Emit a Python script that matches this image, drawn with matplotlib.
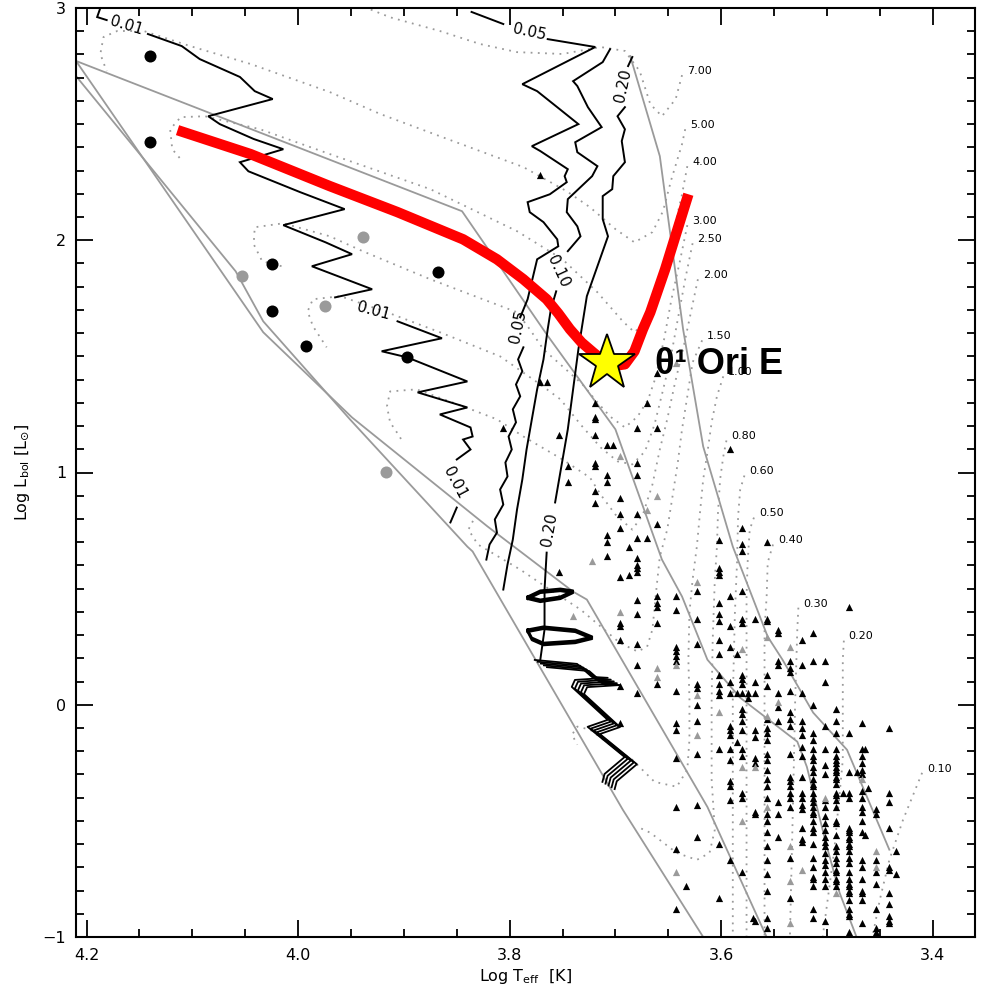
import numpy as np
import matplotlib
matplotlib.use("Agg")
import matplotlib.pyplot as plt
import matplotlib.transforms as mtransforms
from matplotlib.ticker import MultipleLocator

plt.rcParams['font.family'] = ['DejaVu Sans']
plt.rcParams['mathtext.fontset'] = 'dejavusans'

GRAY = '#9a9a9a'

# ---------------- axes ----------------
x_limits = (4.21, 3.36)
y_limits = (-1.0, 3.0)
x_major = [4.2, 4.0, 3.8, 3.6, 3.4]
x_major_labels = ['4.2', '4.0', '3.8', '3.6', '3.4']
y_major = [-1, 0, 1, 2, 3]
y_major_labels = ['\u22121', '0', '1', '2', '3']

# ---------------- boundary polylines (log Teff, log L) ----------------
boundary_a_t = [4.210, 3.845, 3.765, 3.700, 3.656, 3.637, 3.613, 3.582, 3.528, 3.519, 3.500, 3.488, 3.472]
boundary_a_l = [2.772, 2.125, 1.595, 1.186, 0.625, 0.466, 0.194, 0.030, -0.159, -0.267, -0.612, -0.810, -1.0]
boundary_b_t = [4.210, 4.033, 3.949, 3.821, 3.740, 3.727, 3.613, 3.557]
boundary_b_l = [2.772, 1.604, 1.237, 0.768, 0.487, 0.453, -0.440, -1.0]
boundary_c_t = [3.686, 3.658, 3.636, 3.617, 3.589, 3.556, 3.542, 3.513, 3.481, 3.441]
boundary_c_l = [2.793, 2.362, 1.617, 1.112, 0.681, 0.293, 0.194, -0.034, -0.194, -0.624]
boundary_d_t = [4.210, 4.059, 4.033, 3.951, 3.840, 3.835, 3.693, 3.617]
boundary_d_l = [2.707, 1.866, 1.651, 1.229, 0.681, 0.660, -0.452, -1.0]

# ---------------- evolutionary tracks (mass label, log Teff, log L) ----------------
track_masses = ['7.00', '5.00', '4.00', '3.00', '2.50', '2.00', '1.50', '1.00',
                '0.80', '0.60', '0.50', '0.40', '0.30', '0.20', '0.10']
track_logt = [
    [3.637, 3.643, 3.656, 3.667, 3.677, 3.691, 3.714, 3.750, 3.793, 3.828, 3.866, 3.913, 3.946, 3.960],
    [3.634, 3.637, 3.647, 3.655, 3.665, 3.682, 3.700, 3.724, 3.746, 3.787, 3.825, 3.866, 3.922, 3.970,
     4.045, 4.102, 4.146, 4.171, 4.184, 4.187, 4.181],
    [3.632, 3.637, 3.645, 3.652, 3.660, 3.669, 3.682, 3.693, 3.717, 3.750, 3.793, 3.875, 3.970, 4.036,
     4.088, 4.111, 4.121, 4.119, 4.111],
    [3.632, 3.639, 3.647, 3.654, 3.662, 3.669, 3.679, 3.691, 3.705, 3.717, 3.731, 3.750, 3.768, 3.781,
     3.793, 3.875, 3.939, 3.970, 4.014, 4.041, 4.042, 4.034, 4.012],
    [3.627, 3.634, 3.641, 3.648, 3.656, 3.663, 3.672, 3.684, 3.698, 3.714, 3.733, 3.752, 3.771, 3.809,
     3.866, 3.916, 3.960, 3.986, 3.991, 3.986, 3.973],
    [3.622, 3.628, 3.635, 3.644, 3.651, 3.658, 3.665, 3.674, 3.684, 3.700, 3.714, 3.724, 3.750, 3.787,
     3.812, 3.844, 3.888, 3.913, 3.916, 3.913, 3.904, 3.901],
    [3.618, 3.627, 3.632, 3.637, 3.641, 3.646, 3.651, 3.658, 3.661, 3.665, 3.670, 3.679, 3.696, 3.714,
     3.733, 3.762, 3.790, 3.814, 3.830, 3.839, 3.833],
    [3.598, 3.604, 3.609, 3.613, 3.617, 3.620, 3.623, 3.627, 3.630, 3.631, 3.630, 3.630, 3.632, 3.642,
     3.663, 3.684, 3.705, 3.724, 3.736, 3.741, 3.736],
    [3.595, 3.598, 3.601, 3.603, 3.604, 3.606, 3.608, 3.609, 3.609, 3.606, 3.611, 3.623, 3.642, 3.667, 3.677],
    [3.578, 3.582, 3.584, 3.585, 3.587, 3.589, 3.589, 3.589],
    [3.569, 3.573, 3.575, 3.576, 3.576, 3.576, 3.576],
    [3.551, 3.556, 3.557, 3.559, 3.559, 3.559, 3.559],
    [3.527, 3.528, 3.530, 3.532, 3.535],
    [3.484, 3.485, 3.485, 3.493, 3.504],
    [3.410, 3.428, 3.441, 3.450, 3.457],
]
track_logl = [
    [2.711, 2.608, 2.534, 2.586, 2.728, 2.815, 2.832, 2.802, 2.810, 2.845, 2.901, 2.960, 3.020, 3.040],
    [2.478, 2.414, 2.263, 2.125, 2.035, 1.991, 2.048, 2.142, 2.211, 2.315, 2.379, 2.448, 2.543, 2.638,
     2.759, 2.836, 2.901, 2.901, 2.875, 2.802, 2.728],
    [2.319, 2.198, 2.039, 1.897, 1.767, 1.660, 1.604, 1.651, 1.776, 1.918, 2.039, 2.220, 2.371, 2.478,
     2.534, 2.530, 2.478, 2.392, 2.349],
    [2.065, 1.910, 1.746, 1.573, 1.409, 1.315, 1.241, 1.194, 1.241, 1.302, 1.379, 1.457, 1.530, 1.617,
     1.690, 1.832, 1.953, 2.017, 2.073, 2.056, 1.983, 1.910, 1.884],
    [1.987, 1.832, 1.660, 1.487, 1.336, 1.207, 1.091, 1.035, 1.048, 1.108, 1.207, 1.315, 1.379, 1.500,
     1.604, 1.690, 1.759, 1.746, 1.694, 1.630, 1.539],
    [1.832, 1.703, 1.552, 1.379, 1.229, 1.099, 0.948, 0.819, 0.754, 0.819, 0.905, 0.978, 1.056, 1.155,
     1.229, 1.285, 1.358, 1.349, 1.285, 1.216, 1.155, 1.129],
    [1.569, 1.474, 1.328, 1.186, 1.043, 0.897, 0.754, 0.638, 0.509, 0.324, 0.250, 0.229, 0.267, 0.337,
     0.410, 0.496, 0.582, 0.647, 0.690, 0.754, 0.806],
    [1.414, 1.328, 1.216, 1.086, 0.970, 0.828, 0.681, 0.539, 0.397, 0.194, 0.022, -0.150, -0.280, -0.353,
     -0.332, -0.237, -0.172, -0.107, -0.094, -0.129, -0.172],
    [1.138, 1.069, 0.970, 0.828, 0.681, 0.539, 0.280, 0.022, -0.323, -0.538, -0.638, -0.668, -0.638, -0.551, -0.530],
    [0.987, 0.927, 0.811, 0.612, 0.397, 0.022, -0.409, -1.0],
    [0.806, 0.754, 0.612, 0.466, 0.022, -0.409, -1.0],
    [0.690, 0.612, 0.466, 0.324, 0.022, -0.409, -1.0],
    [0.418, 0.324, 0.022, -0.409, -1.0],
    [0.276, 0.194, -0.237, -0.624, -1.0],
    [-0.293, -0.495, -0.668, -0.840, -1.0],
]

# ---------------- isochrone contours (age labels in Myr) ----------------
iso_001_hook_t = [4.187, 4.190, 4.181]
iso_001_hook_l = [3.000, 2.961, 2.948]
iso_001_a_t = [4.142, 4.110, 4.093, 4.055, 4.041, 4.024, 4.085, 4.074, 4.042, 4.014, 4.055, 4.047, 3.998,
               3.956, 4.014, 3.974, 3.949, 3.987, 3.930, 3.965]
iso_001_a_l = [2.888, 2.836, 2.780, 2.703, 2.642, 2.608, 2.534, 2.500, 2.436, 2.392, 2.336, 2.297, 2.207,
               2.134, 2.065, 1.991, 1.940, 1.888, 1.789, 1.754]
iso_001_b_t = [3.906, 3.864, 3.921, 3.897, 3.840, 3.887, 3.840, 3.866, 3.837, 3.835, 3.844, 3.837, 3.850]
iso_001_b_l = [1.651, 1.578, 1.522, 1.496, 1.392, 1.345, 1.280, 1.250, 1.194, 1.155, 1.142, 1.099, 1.056]
iso_001_c_t = [3.850, 3.856]
iso_001_c_l = [0.849, 0.785]

iso_005_a_t = [3.836, 3.806]
iso_005_a_l = [2.983, 2.931]
iso_005_b_t = [3.764, 3.719, 3.788, 3.774, 3.755, 3.735, 3.779, 3.771, 3.745, 3.748, 3.746, 3.762, 3.783,
               3.781, 3.768, 3.755, 3.754, 3.774, 3.783, 3.790]
iso_005_b_l = [2.866, 2.832, 2.672, 2.642, 2.573, 2.500, 2.405, 2.384, 2.306, 2.276, 2.250, 2.198, 2.164,
               2.121, 2.078, 2.004, 1.974, 1.918, 1.746, 1.668]
iso_005_c_t = [3.787, 3.792, 3.788, 3.794, 3.790, 3.797, 3.794, 3.801, 3.798, 3.804, 3.802, 3.809, 3.806,
               3.814, 3.812, 3.819, 3.822]
iso_005_c_l = [1.539, 1.487, 1.436, 1.379, 1.328, 1.272, 1.216, 1.155, 1.099, 1.043, 0.983, 0.927, 0.862,
               0.798, 0.741, 0.690, 0.625]

iso_010_a_t = [3.705, 3.712, 3.740, 3.736, 3.726, 3.713, 3.738, 3.736, 3.717, 3.722, 3.745, 3.746, 3.736,
               3.733, 3.745]
iso_010_a_l = [2.823, 2.767, 2.685, 2.664, 2.573, 2.487, 2.422, 2.379, 2.319, 2.276, 2.177, 2.121, 2.060,
               2.017, 1.953]
iso_010_b_t = [3.756, 3.761, 3.764, 3.768, 3.774, 3.779, 3.784, 3.788, 3.793, 3.797, 3.802, 3.806]
iso_010_b_l = [1.780, 1.703, 1.617, 1.487, 1.358, 1.229, 1.099, 0.970, 0.841, 0.711, 0.604, 0.496]

iso_020_a_t = [3.684, 3.688]
iso_020_a_l = [2.789, 2.750]
iso_020_b_t = [3.691, 3.698, 3.691, 3.694, 3.691, 3.702, 3.703, 3.712, 3.712, 3.707, 3.717, 3.727, 3.735,
               3.745, 3.757]
iso_020_b_l = [2.573, 2.534, 2.478, 2.427, 2.336, 2.276, 2.220, 2.190, 2.091, 2.017, 1.888, 1.759, 1.530,
               1.186, 0.871]
iso_020_c_t = [3.765, 3.767, 3.767, 3.771]
iso_020_c_l = [0.655, 0.496, 0.324, 0.194]

loop_1_t = [3.783, 3.771, 3.752, 3.740, 3.752, 3.771, 3.783]
loop_1_l = [0.466, 0.492, 0.500, 0.492, 0.466, 0.453, 0.466]
loop_2_t = [3.783, 3.768, 3.738, 3.722, 3.738, 3.768, 3.779, 3.783]
loop_2_l = [0.324, 0.337, 0.324, 0.294, 0.276, 0.267, 0.289, 0.324]
zigzag_t = [3.771, 3.731, 3.717, 3.702, 3.733, 3.736, 3.702, 3.721, 3.686, 3.705, 3.707]
zigzag_l = [0.181, 0.164, 0.108, 0.104, 0.095, 0.065, -0.077, -0.107, -0.237, -0.310, -0.344]

# contour labels: text, log Teff, log L, rotation
iso_label_text = ['0.01', '0.01', '0.01', '0.05', '0.05', '0.10', '0.20', '0.20']
iso_label_t = [4.162, 3.929, 3.852, 3.781, 3.792, 3.754, 3.693, 3.762]
iso_label_l = [2.922, 1.694, 0.957, 2.897, 1.630, 1.866, 2.664, 0.754]
iso_label_rot = [-17, -15, -62, -12, 78, -65, 78, 80]

# ---------------- massive members (filled circles) ----------------
dots_black_t = [4.140, 4.140, 4.025, 4.025, 3.993, 3.897, 3.868]
dots_black_l = [2.793, 2.422, 1.897, 1.694, 1.543, 1.496, 1.862]
dots_gray_t = [4.053, 3.975, 3.917, 3.939]
dots_gray_l = [1.845, 1.716, 1.004, 2.013]

# ---------------- low-mass members (triangles), grouped by log Teff ----------------
tri_black_columns = [
    (3.806, [1.19]),
    (3.771, [2.28, 1.39]),
    (3.765, [1.39]),
    (3.753, [1.16, 0.57]),
    (3.745, [1.03, 0.96]),
    (3.719, [1.30, 1.24, 1.23, 1.16, 1.04, 1.03, 0.92, 0.87]),
    (3.708, [1.12, 0.99, 0.96, 0.73, 0.70, 0.64]),
    (3.702, [1.12]),
    (3.696, [0.89, 0.82, 0.76, 0.55, 0.35, 0.34, 0.28, 0.08, -0.08]),
    (3.687, [0.68, 0.56]),
    (3.680, [1.19, 1.04, 0.99, 0.82, 0.72, 0.63, 0.60, 0.59, 0.57, 0.45, 0.39, 0.26, 0.17, 0.05]),
    (3.670, [1.30, 0.72]),
    (3.661, [1.43, 1.19, 0.78, 0.47, 0.44, 0.42, 0.35, 0.09]),
    (3.643, [0.47, 0.41, 0.25, 0.23, 0.21, 0.19, 0.06, -0.08, -0.11, -0.23, -0.44, -0.62, -0.88]),
    (3.633, [-0.78]),
    (3.623, [0.49, 0.37, 0.26, 0.09, 0.07, 0.00, -0.07, -0.21, -0.43, -0.57]),
    (3.602, [0.71, 0.59, 0.57, 0.56, 0.44, 0.39, 0.36, 0.28, 0.22, 0.13, 0.09, 0.06, 0.04, -0.19,
             -0.60, -0.83]),
    (3.592, [1.10, 0.47, 0.34, 0.25, 0.10, 0.05, -0.09, -0.11, -0.13, -0.19, -0.24, -0.33, -0.35,
             -0.41, -0.67]),
    (3.585, [0.22, 0.05, -0.16]),
    (3.580, [0.76, 0.69, 0.66, 0.49, 0.37, 0.35, 0.13, 0.11, 0.09, 0.05, -0.02, -0.04, -0.07, -0.11,
             -0.19, -0.22, -0.38, -0.40, -0.72]),
    (3.575, [0.05, 0.03]),
    (3.570, [-0.92]),
    (3.568, [0.37, 0.10, 0.05, -0.11, -0.14, -0.23, -0.25, -0.46, -0.47, -0.93]),
    (3.557, [0.70, 0.37, 0.36, 0.13, 0.08, -0.06, -0.10, -0.12, -0.15, -0.21, -0.24, -0.28, -0.32,
             -0.35, -0.40, -0.47, -0.50, -0.55, -0.61, -0.67, -0.73, -0.80, -0.92, -0.96]),
    (3.546, [0.32, 0.31, 0.19, 0.17, 0.05, -0.01, -0.07, -0.42, -0.47, -0.57]),
    (3.535, [0.19, 0.16, 0.14, 0.06, -0.03, -0.06, -0.09, -0.21, -0.31, -0.33, -0.35, -0.38, -0.40,
             -0.44, -0.66, -0.83]),
    (3.524, [0.28, 0.17, 0.05, -0.07, -0.10, -0.13, -0.18, -0.22, -0.31, -0.38, -0.40, -0.43, -0.45,
             -0.53, -0.58, -0.59]),
    (3.513, [0.31, 0.19, 0.00, -0.12, -0.15, -0.19, -0.22, -0.24, -0.27, -0.29, -0.32, -0.34, -0.35,
             -0.38, -0.40, -0.42, -0.44, -0.46, -0.47, -0.50, -0.53, -0.55, -0.60, -0.66, -0.70, -0.74,
             -0.75, -0.78, -0.88, -0.92]),
    (3.502, [0.19, 0.10, -0.09, -0.19, -0.26, -0.30, -0.41, -0.44, -0.48, -0.51, -0.54, -0.57, -0.59,
             -0.61, -0.64, -0.67, -0.69, -0.72, -0.75, -0.78, -0.93]),
    (3.491, [-0.02, -0.07, -0.12, -0.19, -0.22, -0.24, -0.25, -0.27, -0.28, -0.29, -0.31, -0.32, -0.34,
             -0.38, -0.39, -0.41, -0.44, -0.50, -0.51, -0.56, -0.61, -0.63, -0.66, -0.68, -0.71, -0.72,
             -0.75, -0.76, -0.78]),
    (3.485, [-0.38]),
    (3.479, [0.42, -0.12, -0.29, -0.38, -0.40, -0.53, -0.54, -0.55, -0.57, -0.58, -0.60, -0.61, -0.63,
             -0.66, -0.68, -0.72, -0.75, -0.77, -0.78, -0.80, -0.81, -0.84, -0.88, -0.90, -0.91, -0.98]),
    (3.472, [-0.29]),
    (3.467, [-0.08, -0.19, -0.22, -0.25, -0.28, -0.30, -0.37, -0.40, -0.44, -0.46, -0.50, -0.55, -0.67,
             -0.70, -0.75, -0.80, -0.81, -0.84, -0.94]),
    (3.464, [-0.19, -0.56]),
    (3.461, [-0.36]),
    (3.454, [-0.45, -0.47, -0.67, -0.72, -0.77, -0.88, -0.96, -0.98]),
    (3.441, [-0.10, -0.38, -0.42, -0.53, -0.70, -0.71, -0.81, -0.86, -0.91, -0.93, -0.94]),
    (3.435, [-0.63, -0.73]),
]
tri_gray_columns = [
    (3.740, [0.38]),
    (3.722, [0.62]),
    (3.696, [1.07, 0.40]),
    (3.670, [0.84]),
    (3.661, [0.90, 0.16, 0.12]),
    (3.643, [1.47, 0.17, -0.72]),
    (3.623, [0.53, 0.04, -0.13]),
    (3.602, [-0.03]),
    (3.580, [0.24, -0.27, -0.50]),
    (3.568, [-0.27]),
    (3.557, [0.29, -0.05, -0.44]),
    (3.546, [0.01]),
    (3.535, [0.25, -0.61, -0.76, -0.94]),
    (3.524, [-0.71]),
    (3.502, [-0.40]),
    (3.491, [-0.81]),
    (3.467, [-0.32]),
    (3.454, [-0.63, -0.70]),
]

# ---------------- theta1 Ori E ----------------
ori_e_track_t = [4.114, 4.045, 3.970, 3.906, 3.844, 3.812, 3.787, 3.765, 3.754, 3.743, 3.732, 3.721,
                 3.705, 3.691, 3.682, 3.674, 3.667, 3.653, 3.631]
ori_e_track_l = [2.474, 2.371, 2.233, 2.121, 2.004, 1.918, 1.832, 1.746, 1.685, 1.617, 1.560, 1.517,
                 1.457, 1.466, 1.522, 1.617, 1.690, 1.875, 2.198]
ori_e_t = 3.708
ori_e_l = 1.470
ori_e_label = '\u03b8\u00b9 Ori E'


def flatten(columns):
    xs, ys = [], []
    for t, ls in columns:
        for l in ls:
            xs.append(t)
            ys.append(l)
    return xs, ys


fig = plt.figure(figsize=(9.83, 9.90), dpi=100)
ax = fig.add_axes([76 / 983, 53 / 990, 899 / 983, 929 / 990])
ax.set_xlim(*x_limits)
ax.set_ylim(*y_limits)

# boundaries
for bt, bl in [(boundary_a_t, boundary_a_l), (boundary_b_t, boundary_b_l),
               (boundary_c_t, boundary_c_l), (boundary_d_t, boundary_d_l)]:
    ax.plot(bt, bl, color=GRAY, lw=1.3, zorder=1, clip_on=True)

# tracks
for mass, tt, tl in zip(track_masses, track_logt, track_logl):
    ax.plot(tt, tl, color=GRAY, lw=1.3, linestyle=(0, (1.0, 3.0)), zorder=1)
    ax.annotate(mass, xy=(tt[0], tl[0]), xytext=(3.5, 3.0), textcoords='offset points',
                fontsize=8, ha='left', va='center', color='black', zorder=3)

# isochrone contours
iso_segments = [
    (iso_001_hook_t, iso_001_hook_l), (iso_001_a_t, iso_001_a_l), (iso_001_b_t, iso_001_b_l),
    (iso_001_c_t, iso_001_c_l), (iso_005_a_t, iso_005_a_l), (iso_005_b_t, iso_005_b_l),
    (iso_005_c_t, iso_005_c_l), (iso_010_a_t, iso_010_a_l), (iso_010_b_t, iso_010_b_l),
    (iso_020_a_t, iso_020_a_l), (iso_020_b_t, iso_020_b_l), (iso_020_c_t, iso_020_c_l),
]
for st, sl in iso_segments:
    ax.plot(st, sl, color='black', lw=1.4, zorder=2, solid_joinstyle='miter')

for lt, ll in [(loop_1_t, loop_1_l), (loop_2_t, loop_2_l)]:
    for k in range(3):
        tr = mtransforms.offset_copy(ax.transData, fig=fig, x=0, y=-0.9 * k, units='points')
        ax.plot(lt, ll, color='black', lw=1.5, zorder=2, transform=tr)

for k in range(5):
    tr = mtransforms.offset_copy(ax.transData, fig=fig, x=2.2 * k - 4, y=-1.3 * k + 2,
                                 units='points')
    ax.plot(zigzag_t, zigzag_l, color='black', lw=1.3, zorder=2, transform=tr)

for txt, lt, ll, rot in zip(iso_label_text, iso_label_t, iso_label_l, iso_label_rot):
    ax.text(lt, ll, txt, fontsize=11, rotation=rot, rotation_mode='anchor',
            ha='center', va='center', color='black', zorder=3)

# triangles
bx, by = flatten(tri_black_columns)
gx, gy = flatten(tri_gray_columns)
ax.scatter(bx, by, marker='^', s=27, color='black', linewidths=0, zorder=4)
ax.scatter(gx, gy, marker='^', s=27, color=GRAY, linewidths=0, zorder=4)

# circles
ax.scatter(dots_black_t, dots_black_l, s=75, color='black', linewidths=0, zorder=5)
ax.scatter(dots_gray_t, dots_gray_l, s=75, color=GRAY, linewidths=0, zorder=5)

# theta1 Ori E track and position
ax.plot(ori_e_track_t, ori_e_track_l, color='#ff0000', lw=7.5, solid_capstyle='butt',
        solid_joinstyle='round', zorder=6)
ax.plot([ori_e_t], [ori_e_l], marker='*', markersize=42, markerfacecolor='#ffff00',
        markeredgecolor='black', markeredgewidth=1.3, zorder=7)
ax.text(3.663, 1.423, ori_e_label, fontsize=26, fontweight='bold',
        family=['Liberation Sans', 'DejaVu Sans'], ha='left', va='baseline', zorder=8)

# ticks and frame
ax.set_xticks(x_major)
ax.set_xticklabels(x_major_labels)
ax.set_yticks(y_major)
ax.set_yticklabels(y_major_labels)
ax.xaxis.set_minor_locator(MultipleLocator(0.05))
ax.yaxis.set_minor_locator(MultipleLocator(0.1))
ax.tick_params(which='both', direction='in', top=True, right=True, labelsize=11.5, colors='black')
ax.tick_params(axis='x', which='major', length=12, width=1.3, pad=8)
ax.tick_params(axis='y', which='major', length=12, width=1.3, pad=7)
ax.tick_params(which='minor', length=6, width=1.3)
for sp in ax.spines.values():
    sp.set_linewidth(1.5)

ax.set_xlabel(r'Log T$_{\rm eff}$  [K]', fontsize=11.5, labelpad=3)
ax.set_ylabel(r'Log L$_{\rm bol}$ [L$_{\odot}$]', fontsize=11.5, labelpad=8)

fig.savefig('out.png', dpi=100)
